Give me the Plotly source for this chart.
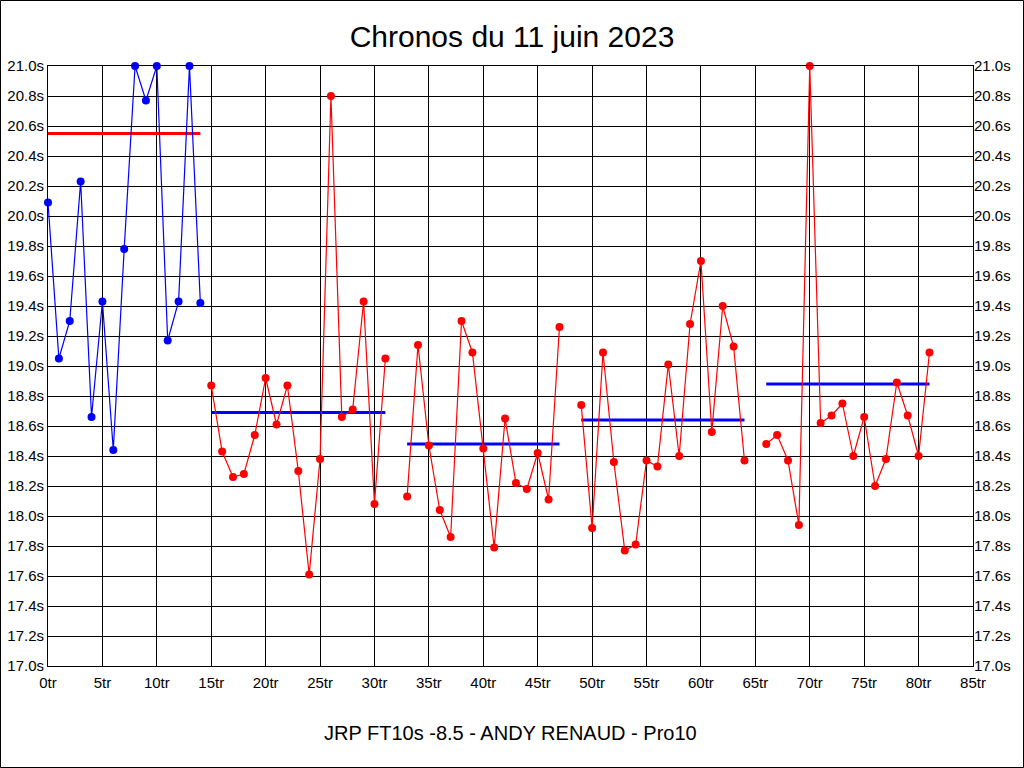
import plotly.graph_objects as go

# Data
seg1_x = list(range(0, 15))
seg1_y = [20.09, 19.05, 19.30, 20.23, 18.66, 19.43, 18.44, 19.78, 21.0, 20.77, 21.0, 19.17, 19.43, 21.0, 19.42]
seg2_x = list(range(15, 32))
seg2_y = [18.87, 18.43, 18.26, 18.28, 18.54, 18.92, 18.61, 18.87, 18.30, 17.61, 18.38, 20.80, 18.66, 18.71, 19.43, 18.08, 19.05]
seg3_x = list(range(33, 48))
seg3_y = [18.13, 19.14, 18.47, 18.04, 17.86, 19.30, 19.09, 18.45, 17.79, 18.65, 18.22, 18.18, 18.42, 18.11, 19.26]
seg4_x = list(range(49, 65))
seg4_y = [18.74, 17.92, 19.09, 18.36, 17.77, 17.81, 18.37, 18.33, 19.01, 18.40, 19.28, 19.70, 18.56, 19.40, 19.13, 18.37]
seg5_x = list(range(66, 82))
seg5_y = [18.48, 18.54, 18.37, 17.94, 21.0, 18.62, 18.67, 18.75, 18.40, 18.66, 18.20, 18.38, 18.89, 18.67, 18.40, 19.09]

segments = [(seg1_x, seg1_y, "blue", "red"),
            (seg2_x, seg2_y, "red", "blue"),
            (seg3_x, seg3_y, "red", "blue"),
            (seg4_x, seg4_y, "red", "blue"),
            (seg5_x, seg5_y, "red", "blue")]
averages = [20.55, 18.69, 18.48, 18.64, 18.88]

title_text = "Chronos du 11 juin 2023"
footer_text = "JRP FT10s -8.5 - ANDY RENAUD - Pro10"

W, H = 1024, 768
L, R, T, B = 48, 51, 66, 102
pw, ph = W - L - R, H - T - B

fig = go.Figure()
for (xs, ys, col, avgcol), avg in zip(segments, averages):
    fig.add_trace(go.Scatter(x=[xs[0], xs[-1]], y=[avg, avg], mode="lines",
                             line=dict(color=avgcol, width=3), showlegend=False,
                             hoverinfo="skip"))
    fig.add_trace(go.Scatter(x=xs, y=ys, mode="lines+markers",
                             line=dict(color=col, width=1.2),
                             marker=dict(color=col, size=8),
                             cliponaxis=False, showlegend=False))

# invisible trace for right axis
fig.add_trace(go.Scatter(x=[0], y=[17], yaxis="y2", mode="markers",
                         marker=dict(opacity=0), showlegend=False, hoverinfo="skip"))

font_family = "Liberation Sans, Arial, sans-serif"
tickfont = dict(size=15, color="black", family=font_family)
axis_common = dict(showgrid=True, gridcolor="black", gridwidth=1,
                   showline=True, linecolor="black", linewidth=1, automargin=False,
                   zeroline=False, ticks="", tickfont=tickfont)

fig.update_layout(
    width=W, height=H,
    margin=dict(l=L, r=R, t=T, b=B, pad=0, autoexpand=False),
    paper_bgcolor="white", plot_bgcolor="white",
    font=dict(family=font_family, color="black"),
    title=dict(text=title_text, x=0.5, xanchor="center", y=1 - 36 / H, yanchor="middle",
               font=dict(size=30, color="black", family=font_family)),
    xaxis=dict(range=[0, 85], dtick=5, tick0=0, ticksuffix="tr", mirror=True,
               ticklabelstandoff=3, **axis_common),
    yaxis=dict(range=[17, 21], dtick=0.2, tick0=17, tickformat=".1f", ticksuffix="s",
               mirror=True, **axis_common),
    yaxis2=dict(range=[17, 21], dtick=0.2, tick0=17, tickformat=".1f", ticksuffix="s",
                overlaying="y", side="right", showgrid=False, showline=False, zeroline=False,
                automargin=False, ticks="", tickfont=tickfont),
    annotations=[dict(text=footer_text, x=0.5, xref="paper", y=(T + ph - 733) / ph, yref="paper",
                      xanchor="center", yanchor="middle", showarrow=False,
                      font=dict(size=20, color="black", family=font_family))],
    shapes=[dict(type="rect", xref="paper", yref="paper",
                 x0=(-L + 0.5) / pw, x1=(pw + R - 0.5) / pw,
                 y0=(-B + 0.5) / ph, y1=(ph + T - 0.5) / ph,
                 line=dict(color="black", width=1))],
)

fig.write_html("out.html", config={"displayModeBar": False},
               post_script="document.body.style.margin='0';document.body.style.overflow='hidden';")
